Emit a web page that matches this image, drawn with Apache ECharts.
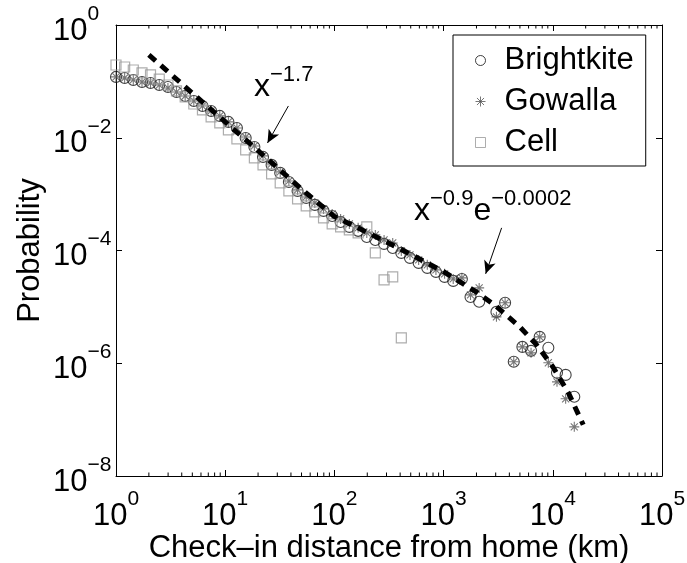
<!DOCTYPE html>
<html>
<head>
<meta charset="utf-8">
<script src="https://cdn.jsdelivr.net/npm/echarts@6/dist/echarts.min.js"></script>
<style>
  html, body { margin: 0; padding: 0; background: #fff; }
  #chart { width: 687px; height: 563px; }
</style>
</head>
<body>
<div id="chart"></div>
<script>
// Log-spaced distance bins (km), factor ~1.2 between neighbours
const distanceBins = [1, 1.2, 1.44, 1.73, 2.07, 2.49, 2.99, 3.58, 4.3, 5.16,
  6.19, 7.43, 8.92, 10.7, 12.8, 15.4, 18.5, 22.2, 26.6, 31.9,
  38.3, 46, 55.2, 66.2, 79.5, 95.4, 114, 137, 165, 198,
  237, 285, 342, 410, 492, 591, 709, 851, 1021, 1225,
  1470, 1764, 2117, 2540, 3048, 3658, 4390, 5268, 6321, 7586,
  9103, 10924, 13109, 15730];

// Probability of a check-in at each distance bin (null = empty bin)
const brightkite = [0.120, 0.115, 0.106, 0.0975, 0.0937, 0.0863, 0.0796, 0.0649, 0.0551, 0.0449,
  0.0366, 0.0299, 0.0244, 0.0191, 0.0149, 0.00991, 0.00687, 0.00457, 0.00330, 0.00238,
  0.00164, 0.00114, 8.57e-4, 6.44e-4, 5.04e-4, 4.10e-4, 3.21e-4, 2.62e-4, 2.23e-4, 1.74e-4,
  1.54e-4, 1.31e-4, 1.11e-4, 9.06e-5, 7.39e-5, 6.03e-5, 4.91e-5, 4.17e-5, 3.40e-5, 2.89e-5,
  3.13e-5, 1.50e-5, 1.23e-5, null, 8.15e-6, 1.18e-5, 1.06e-6, 1.95e-6, 1.66e-6, 2.94e-6,
  1.88e-6, 6.76e-7, 6.22e-7, 2.54e-7];

const gowalla = [0.120, 0.115, 0.106, 0.0975, 0.0937, 0.0863, 0.0764, 0.0649, 0.0551, 0.0449,
  0.0366, 0.0299, 0.0244, 0.0191, 0.0149, 0.0103, 0.00716, 0.00476, 0.00343, 0.00248,
  0.00171, 0.00119, 8.91e-4, 6.98e-4, 5.47e-4, 4.46e-4, 3.63e-4, 2.96e-4, 2.52e-4, 2.05e-4,
  1.89e-4, 1.54e-4, 1.36e-4, 9.84e-5, 8.36e-5, 6.81e-5, 5.56e-5, 4.53e-5, 3.85e-5, 3.13e-5,
  3.27e-5, 1.63e-5, 2.17e-5, null, 6.65e-6, 1.18e-5, 1.06e-6, 1.95e-6, 1.53e-6, 2.94e-6,
  1.02e-6, 4.68e-7, 2.34e-7, 7.45e-8];

const cell = [0.195, 0.180, 0.159, 0.141, 0.130, 0.110, 0.0863, 0.0676, 0.0529, 0.0397,
  0.0311, 0.0234, 0.0183, 0.0138, 0.00953, 0.00608, 0.00439, 0.00330, 0.00228, 0.00158,
  0.00114, 8.22e-4, 6.18e-4, 4.83e-4, 3.79e-4, 2.96e-4, 2.62e-4, 2.32e-4, 2.05e-4, 2.62e-4,
  9.06e-5, 3.01e-5, 3.40e-5, 2.82e-6];

// Fitted curve: x^-1.7 at short range, x^-0.9 e^-0.0002x beyond ~100 km
const fitDistance = [2, 5, 10, 20, 50, 100, 200, 500, 1000, 2000, 3000, 5000, 7000, 10000, 14000, 19000];
const fitProbability = [0.295, 0.062, 0.0191, 0.0059, 0.00123, 4.0e-4, 2.09e-4, 8.6e-5, 4.2e-5, 1.84e-5,
  1.04e-5, 4.4e-6, 2.19e-6, 8.7e-7, 2.9e-7, 8.1e-8];

// Tick label exponents
const xExponents = ['0', '1', '2', '3', '4', '5'];
const yExponents = ['0', '−2', '−4', '−6', '−8'];

const seriesNames = ['Brightkite', 'Gowalla', 'Cell'];

const FONT = '"Liberation Sans", Arial, Helvetica, sans-serif';

function pairs(xs, ys) {
  const out = [];
  ys.forEach((y, i) => { if (y != null) out.push([xs[i], y]); });
  return out;
}

// minor tick positions on the distance axis (2..9 in each decade)
const minorTicks = [];
for (let d = 0; d < 5; d++) {
  for (let m = 2; m <= 9; m++) minorTicks.push([m * Math.pow(10, d)]);
}

const richTick = {
  b: { fontSize: 31, fontFamily: FONT, color: '#000', verticalAlign: 'bottom' },
  s: { fontSize: 21, fontFamily: FONT, color: '#000', verticalAlign: 'bottom', padding: [0, 0, 22, 0] }
};
const richNote = {
  b: { fontSize: 32, fontFamily: FONT, fill: '#000', verticalAlign: 'bottom' },
  s: { fontSize: 22, fontFamily: FONT, fill: '#000', verticalAlign: 'bottom', padding: [0, 0, 17, 0] }
};

function xLabel(v) {
  const e = Math.round(Math.log10(v));
  return '{b|10}{s|' + xExponents[e] + '}';
}
function yLabel(v) {
  const e = Math.round(-Math.log10(v) / 2);
  return '{b|10}{s|' + yExponents[e] + '}';
}

const ASTERISK = 'path://M0,-10L0,10M-10,0L10,0M-7.07,-7.07L7.07,7.07M-7.07,7.07L7.07,-7.07';

const baseX = {
  type: 'log', logBase: 10, min: 1, max: 100000, interval: 1,
  splitLine: { show: false },
  axisLine: { show: true, lineStyle: { color: '#000', width: 1 } },
  axisTick: { show: true, inside: true, length: 6, lineStyle: { color: '#000', width: 1 } }
};
const baseY = {
  type: 'log', logBase: 10, min: 1e-8, max: 1, interval: 2,
  splitLine: { show: false },
  axisLine: { show: true, lineStyle: { color: '#000', width: 1 } },
  axisTick: { show: true, inside: true, length: 6, lineStyle: { color: '#000', width: 1 } }
};

const chart = echarts.init(document.getElementById('chart'), null, { renderer: 'canvas' });

chart.setOption({
  animation: false,
  backgroundColor: '#fff',
  grid: { left: 116, top: 25, width: 546, height: 451, show: false, containLabel: false, outerBoundsMode: 'none' },
  xAxis: [
    Object.assign({}, baseX, {
      position: 'bottom',
      name: 'Check–in distance from home (km)',
      nameLocation: 'middle', nameGap: 57, nameMoveOverlap: false,
      nameTextStyle: { fontSize: 31, fontFamily: FONT, color: '#000' },
      axisLabel: { show: true, margin: 13, formatter: xLabel, rich: richTick }
    }),
    Object.assign({}, baseX, { position: 'top', axisLabel: { show: false } })
  ],
  yAxis: [
    Object.assign({}, baseY, {
      position: 'left',
      name: 'Probability',
      nameLocation: 'middle', nameGap: 70, nameMoveOverlap: false,
      nameTextStyle: { fontSize: 31, fontFamily: FONT, color: '#000' },
      axisLabel: { show: true, margin: 63, align: 'left', formatter: yLabel, rich: richTick }
    }),
    Object.assign({}, baseY, { position: 'right', axisLabel: { show: false } })
  ],
  legend: {
    orient: 'vertical', left: 453, top: 35,
    padding: [10, 12, 8, 20], itemGap: 10, itemWidth: 10, itemHeight: 10,
    borderColor: '#000', borderWidth: 1, backgroundColor: '#fff',
    textStyle: { fontSize: 31, lineHeight: 30, fontFamily: FONT, color: '#000', padding: [0, 0, 0, 14] },
    data: [
      { name: seriesNames[0], icon: 'circle', itemStyle: { color: 'none', borderColor: '#111', borderWidth: 1 } },
      { name: seriesNames[1], icon: ASTERISK, itemStyle: { color: 'none', borderColor: '#555', borderWidth: 1 } },
      { name: seriesNames[2], icon: 'rect', itemStyle: { color: 'none', borderColor: '#999', borderWidth: 1 } }
    ]
  },
  graphic: [
    {
      type: 'text', left: 254, top: 64, z: 100,
      style: { text: '{b|x}{s|−1.7}', rich: richNote }
    },
    {
      type: 'text', left: 414, top: 188, z: 100,
      style: { text: '{b|x}{s|−0.9}{b|e}{s|−0.0002}', rich: richNote }
    }
  ],
  series: [
    {
      name: seriesNames[0], type: 'scatter', xAxisIndex: 0, yAxisIndex: 0,
      symbol: 'circle', symbolSize: 11,
      itemStyle: { color: 'none', borderColor: '#111', borderWidth: 1.1 },
      data: pairs(distanceBins, brightkite), z: 3
    },
    {
      name: seriesNames[1], type: 'scatter', xAxisIndex: 0, yAxisIndex: 0,
      symbol: ASTERISK, symbolSize: 10,
      itemStyle: { color: 'none', borderColor: '#555', borderWidth: 1.1 },
      data: pairs(distanceBins, gowalla), z: 4
    },
    {
      name: seriesNames[2], type: 'scatter', xAxisIndex: 0, yAxisIndex: 0,
      symbol: 'rect', symbolSize: 10,
      itemStyle: { color: 'none', borderColor: '#999', borderWidth: 1.2 },
      data: pairs(distanceBins, cell), z: 5
    },
    {
      name: 'fit', type: 'line', xAxisIndex: 0, yAxisIndex: 0,
      showSymbol: false, symbol: 'none', smooth: false,
      lineStyle: { color: '#000', width: 5, type: [9, 7], cap: 'butt' },
      data: pairs(fitDistance, fitProbability), z: 6,
      markLine: {
        silent: true, symbol: ['none', 'arrow'], symbolSize: [9, 13],
        label: { show: false },
        lineStyle: { color: '#000', width: 1, type: 'solid' },
        data: [
          [{ coord: [37.9, 0.0366] }, { coord: [24.4, 0.00809] }],
          [{ coord: [3398, 2.52e-4] }, { coord: [2427, 3.85e-5] }]
        ]
      }
    },
    {
      name: 'minorTicks', type: 'custom', xAxisIndex: 0, yAxisIndex: 0,
      silent: true, z: 2, clip: false,
      data: minorTicks,
      encode: { x: 0 },
      renderItem: function (params, api) {
        const px = api.coord([api.value(0), 1e-4])[0];
        const cs = params.coordSys;
        const style = { stroke: '#000', lineWidth: 1 };
        return {
          type: 'group',
          children: [
            { type: 'line', shape: { x1: px, y1: cs.y + cs.height, x2: px, y2: cs.y + cs.height - 3.5 }, style: style },
            { type: 'line', shape: { x1: px, y1: cs.y, x2: px, y2: cs.y + 3.5 }, style: style }
          ]
        };
      }
    }
  ]
});
</script>
</body>
</html>
